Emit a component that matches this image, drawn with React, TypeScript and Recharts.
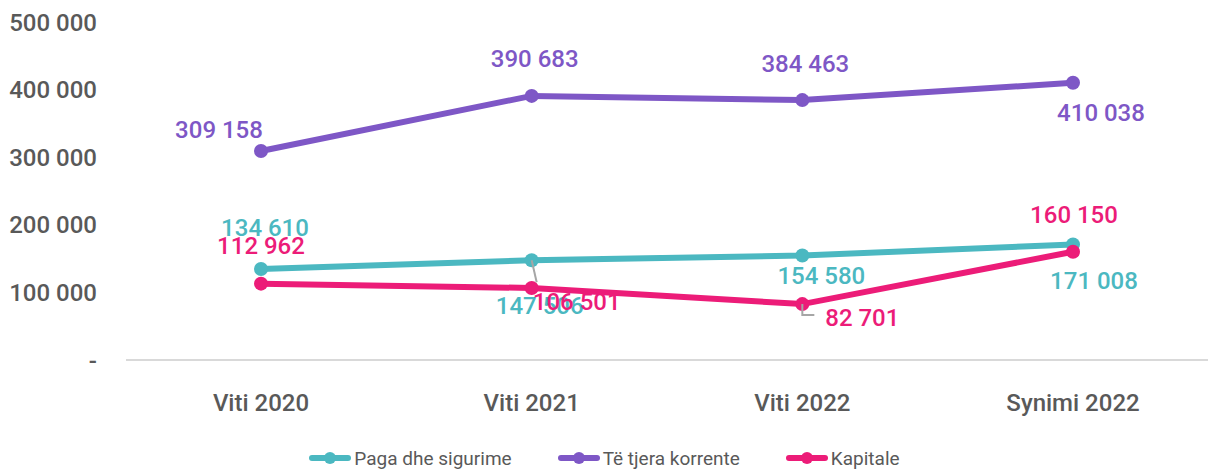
import React from 'react';
import { LineChart, Line, XAxis, YAxis } from 'recharts';

const categories = ['Viti 2020', 'Viti 2021', 'Viti 2022', 'Synimi 2022'];
const paga = [134610, 147506, 154580, 171008];
const teTjera = [309158, 390683, 384463, 410038];
const kapitale = [112962, 106501, 82701, 160150];
const yTicks = [0, 100000, 200000, 300000, 400000, 500000];

const data = categories.map((c, i) => ({ name: c, paga: paga[i], teTjera: teTjera[i], kapitale: kapitale[i] }));

const FONT = 'Roboto, sans-serif';
const C_PAGA = '#4BB8C1';
const C_TJERA = '#7E57C6';
const C_KAP = '#EC1C78';
const GRAY = '#595959';

const fmt = (v: number) => (v === 0 ? '-' : String(v).replace(/\B(?=(\d{3})+(?!\d))/g, ' '));

// label offsets (style): [dx, dy] of text centre relative to point
const offPaga = [[4, -41], [8, 46], [19, 20], [21, 37]];
const offTjera = [[-42, -21], [3, -37], [3, -36], [28, 30]];
const offKap = [[0, -38], [45, 14], [60, 14], [1, -37]];

const makeLabel = (color: string, offs: number[][], key: string) => (props: any) => {
  const { x, y, index, value } = props;
  const [dx, dy] = offs[index];
  let leader: React.ReactNode = null;
  if (key === 'paga' && index === 1) {
    leader = <line x1={x} y1={y} x2={x + 5} y2={y + 22} stroke="#A6A6A6" strokeWidth={2} />;
  }
  if (key === 'kap' && index === 2) {
    leader = <polyline points={`${x},${y} ${x},${y + 11} ${x + 12},${y + 11}`} fill="none" stroke="#A6A6A6" strokeWidth={2} />;
  }
  return (
    <g key={`${key}-${index}`}>
      {leader}
      <text x={x + dx} y={y + dy} fill={color} fontSize={24} fontWeight={500} fontFamily={FONT} textAnchor="middle" dominantBaseline="central">
        {fmt(value)}
      </text>
    </g>
  );
};

const legendItems = [
  { label: 'Paga dhe sigurime', color: C_PAGA },
  { label: 'Të tjera korrente', color: C_TJERA },
  { label: 'Kapitale', color: C_KAP },
];

export default function App() {
  return (
    <div style={{ position: 'absolute', left: 0, top: 0, width: 1209, height: 472, background: '#fff' }}>
      <LineChart width={1209} height={472} data={data} margin={{ top: 22, right: 1, left: 0, bottom: 52 }}>
        <XAxis
          dataKey="name"
          axisLine={{ stroke: '#D9D9D9', strokeWidth: 2 }}
          tickLine={false}
          height={60}
          tickMargin={28}
          padding={{ left: 135, right: 135 }}
          tick={{ fill: GRAY, fontSize: 24, fontWeight: 500, fontFamily: FONT }}
          interval={0}
        />
        <YAxis
          width={126}
          domain={[0, 500000]}
          ticks={yTicks}
          axisLine={false}
          tickLine={false}
          tickSize={0}
          tickMargin={29}
          tickFormatter={fmt}
          tick={{ fill: GRAY, fontSize: 24, fontWeight: 500, fontFamily: FONT }}
          interval={0}
        />
        <Line dataKey="paga" stroke={C_PAGA} strokeWidth={6} dot={{ r: 7, fill: C_PAGA, stroke: C_PAGA, strokeWidth: 0 }} isAnimationActive={false} label={makeLabel(C_PAGA, offPaga, 'paga')} />
        <Line dataKey="teTjera" stroke={C_TJERA} strokeWidth={6} dot={{ r: 7, fill: C_TJERA, stroke: C_TJERA, strokeWidth: 0 }} isAnimationActive={false} label={makeLabel(C_TJERA, offTjera, 'tjera')} />
        <Line dataKey="kapitale" stroke={C_KAP} strokeWidth={6} dot={{ r: 7, fill: C_KAP, stroke: C_KAP, strokeWidth: 0 }} isAnimationActive={false} label={makeLabel(C_KAP, offKap, 'kap')} />
      </LineChart>
      <div style={{ position: 'absolute', left: 0, top: 446, width: 1209, display: 'flex', justifyContent: 'center', fontFamily: FONT, fontSize: 19, color: GRAY }}>
        {legendItems.map((it, i) => (
          <div key={it.label} style={{ display: 'flex', alignItems: 'center', marginLeft: i === 0 ? 0 : 46 }}>
            <svg width={42} height={24} style={{ marginRight: 3 }}>
              <line x1={3} y1={12} x2={39} y2={12} stroke={it.color} strokeWidth={6} strokeLinecap="round" />
              <circle cx={21} cy={12} r={6} fill={it.color} />
            </svg>
            <span>{it.label}</span>
          </div>
        ))}
      </div>
    </div>
  );
}
